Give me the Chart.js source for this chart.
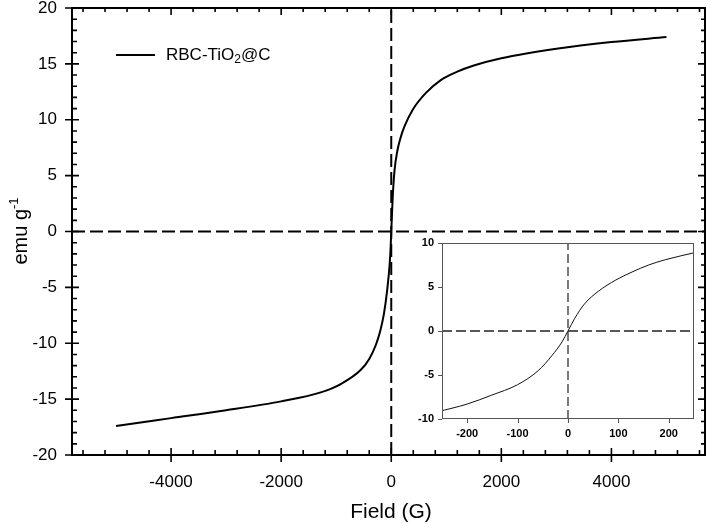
<!DOCTYPE html>
<html>
<head>
<meta charset="utf-8">
<script src="https://cdn.jsdelivr.net/npm/chart.js@4.4.1/dist/chart.umd.min.js"></script>
<style>
  html, body { margin: 0; padding: 0; background: #fff; }
  #wrap { position: relative; width: 711px; height: 524px; }
  #main { position: absolute; left: 0; top: 0; }
  #inset { position: absolute; left: 398px; top: 235px; }
</style>
</head>
<body>
<div id="wrap">
  <canvas id="main" width="711" height="524"></canvas>
  <canvas id="inset" width="305" height="212"></canvas>
</div>
<script>
// main loop
const field = [-5000, -4000, -3000, -2000, -1281, -918, -556, -400, -284, -200, -134, -73, -30, -12, 0,
  15, 30, 60, 110, 170, 240, 390, 630, 900, 1200, 1500, 2000, 3000, 4000, 5000];
const moment = [-17.4, -16.7, -16.0, -15.2, -14.4, -13.65, -12.4, -11.4, -10.2, -8.9, -7.4, -5.2, -3.0, -1.5, 0,
  1.8, 3.4, 5.5, 7.2, 8.4, 9.4, 10.9, 12.4, 13.55, 14.3, 14.85, 15.5, 16.35, 16.95, 17.4];

// low-field part
const insetField = [-260, -200, -152, -100, -59, -32, -12, 0, 13, 33, 60, 95, 127, 160, 193, 255];
const insetMoment = [-9.2, -8.3, -7.3, -6.1, -4.5, -2.8, -1.25, 0, 1.4, 3.1, 4.5, 5.8, 6.7, 7.5, 8.1, 8.95];

const seriesName = "RBC-TiO2@C";
const xTicks = [-4000, -2000, 0, 2000, 4000];
const yTicks = [-20, -15, -10, -5, 0, 5, 10, 15, 20];
const insetXTicks = [-200, -100, 0, 100, 200];
const insetYTicks = [-10, -5, 0, 5, 10];

const FONT = "'Liberation Sans', Arial, sans-serif";
const toPoints = (xs, ys) => xs.map((x, i) => ({ x: x, y: ys[i] }));

function noPad(s) {
  s.paddingTop = 0; s.paddingBottom = 0; s.paddingLeft = 0; s.paddingRight = 0;
}

// ticks on all four sides of the main frame
const mainFrame = {
  id: "mainFrame",
  afterDraw(chart) {
    const { ctx, chartArea: a, scales: { x, y } } = chart;
    ctx.save();
    ctx.strokeStyle = "#000";
    ctx.lineWidth = 2;
    ctx.strokeRect(a.left, a.top, a.right - a.left, a.bottom - a.top);

    ctx.lineWidth = 1.6;
    ctx.beginPath();
    for (let v = -5600; v <= 5600; v += 400) {
      const px = x.getPixelForValue(v);
      const major = v % 2000 === 0;
      ctx.moveTo(px, major ? a.bottom + 7 : a.bottom);
      ctx.lineTo(px, major ? a.bottom - 7 : a.bottom - 5);
      ctx.moveTo(px, a.top);
      ctx.lineTo(px, a.top + (major ? 7 : 4));
    }
    for (let v = -20; v <= 20; v += 1) {
      const py = y.getPixelForValue(v);
      const major = v % 5 === 0;
      ctx.moveTo(major ? a.left - 7 : a.left, py);
      ctx.lineTo(major ? a.left + 7 : a.left + 5, py);
      ctx.moveTo(a.right, py);
      ctx.lineTo(a.right - (major ? 7 : 4), py);
    }
    ctx.stroke();

    // legend
    ctx.lineWidth = 2;
    ctx.beginPath();
    ctx.moveTo(116, 55);
    ctx.lineTo(155, 55);
    ctx.stroke();
    ctx.fillStyle = "#000";
    ctx.textBaseline = "middle";
    ctx.textAlign = "left";
    ctx.font = "17px " + FONT;
    const parts = seriesName.split("2");
    let tx = 166;
    ctx.fillText(parts[0], tx, 55);
    tx += ctx.measureText(parts[0]).width;
    ctx.font = "12px " + FONT;
    ctx.fillText("2", tx, 60);
    tx += ctx.measureText("2").width;
    ctx.font = "17px " + FONT;
    ctx.fillText(parts[1], tx, 55);

    // axis titles
    ctx.textAlign = "center";
    ctx.textBaseline = "alphabetic";
    ctx.font = "21px " + FONT;
    ctx.fillText("Field (G)", 391, 518);

    ctx.translate(27, 231);
    ctx.rotate(-Math.PI / 2);
    ctx.font = "20px " + FONT;
    const w1 = ctx.measureText("emu g").width;
    ctx.font = "13px " + FONT;
    const w2 = ctx.measureText("-1").width;
    ctx.textAlign = "left";
    ctx.font = "20px " + FONT;
    ctx.fillText("emu g", -(w1 + w2) / 2, 0);
    ctx.font = "13px " + FONT;
    ctx.fillText("-1", -(w1 + w2) / 2 + w1, -9);
    ctx.restore();
  }
};

new Chart(document.getElementById("main"), {
  type: "line",
  data: {
    datasets: [
      { data: toPoints(field, moment), borderColor: "#000", borderWidth: 2, pointRadius: 0, cubicInterpolationMode: "monotone" },
      { data: [{ x: 0, y: -20 }, { x: 0, y: 20 }], borderColor: "#000", borderWidth: 2, borderDash: [13, 5], pointRadius: 0 },
      { data: [{ x: -5800, y: 0 }, { x: 5700, y: 0 }], borderColor: "#000", borderWidth: 2, borderDash: [13, 5], pointRadius: 0 }
    ]
  },
  options: {
    responsive: false,
    animation: false,
    layout: { padding: { top: 8, right: 6, left: 0, bottom: 0 } },
    plugins: { legend: { display: false }, tooltip: { enabled: false } },
    scales: {
      x: {
        type: "linear", min: -5800, max: 5700,
        afterFit(s) { s.height = 69; noPad(s); },
        afterBuildTicks(s) { s.ticks = xTicks.map(v => ({ value: v })); },
        grid: { display: false, drawTicks: false },
        border: { display: false },
        ticks: { padding: 17, color: "#000", font: { family: FONT, size: 17 }, callback: v => String(v) }
      },
      y: {
        type: "linear", min: -20, max: 20,
        afterFit(s) { s.width = 72; noPad(s); },
        afterBuildTicks(s) { s.ticks = yTicks.map(v => ({ value: v })); },
        grid: { display: false, drawTicks: false },
        border: { display: false },
        ticks: { padding: 15, color: "#000", font: { family: FONT, size: 17 }, callback: v => String(v) }
      }
    }
  },
  plugins: [mainFrame]
});

// inset: zoom around the origin
const insetFrame = {
  id: "insetFrame",
  beforeDraw(chart) {
    const { ctx, chartArea: a } = chart;
    ctx.save();
    ctx.fillStyle = "#fff";
    ctx.fillRect(a.left, a.top, a.right - a.left, a.bottom - a.top);
    ctx.restore();
  },
  afterDraw(chart) {
    const { ctx, chartArea: a, scales: { x, y } } = chart;
    ctx.save();
    ctx.strokeStyle = "#555";
    ctx.lineWidth = 1;
    ctx.strokeRect(a.left + 0.5, a.top + 0.5, a.right - a.left - 1, a.bottom - a.top - 1);
    ctx.beginPath();
    insetXTicks.forEach(v => {
      const px = Math.round(x.getPixelForValue(v)) + 0.5;
      ctx.moveTo(px, a.bottom);
      ctx.lineTo(px, a.bottom + 4);
    });
    insetYTicks.forEach(v => {
      const py = Math.round(y.getPixelForValue(v)) + 0.5;
      ctx.moveTo(a.left, py);
      ctx.lineTo(a.left - 4, py);
    });
    ctx.stroke();
    ctx.restore();
  }
};

new Chart(document.getElementById("inset"), {
  type: "line",
  data: {
    datasets: [
      { data: toPoints(insetField, insetMoment), borderColor: "#111", borderWidth: 1, pointRadius: 0, cubicInterpolationMode: "monotone" },
      { data: [{ x: 0, y: -10 }, { x: 0, y: 10 }], borderColor: "#222", borderWidth: 1.2, borderDash: [9, 4], pointRadius: 0 },
      { data: [{ x: -250, y: 0 }, { x: 250, y: 0 }], borderColor: "#222", borderWidth: 1.6, borderDash: [10, 4], pointRadius: 0 }
    ]
  },
  options: {
    responsive: false,
    animation: false,
    layout: { padding: { top: 8, right: 9, left: 0, bottom: 0 } },
    plugins: { legend: { display: false }, tooltip: { enabled: false } },
    scales: {
      x: {
        type: "linear", min: -250, max: 250,
        afterFit(s) { s.height = 28; noPad(s); },
        afterBuildTicks(s) { s.ticks = insetXTicks.map(v => ({ value: v })); },
        grid: { display: false, drawTicks: false },
        border: { display: false },
        ticks: { padding: 8, color: "#000", font: { family: FONT, size: 11, weight: "bold" } }
      },
      y: {
        type: "linear", min: -10, max: 10,
        afterFit(s) { s.width = 44; noPad(s); },
        afterBuildTicks(s) { s.ticks = insetYTicks.map(v => ({ value: v })); },
        grid: { display: false, drawTicks: false },
        border: { display: false },
        ticks: { padding: 8, color: "#000", font: { family: FONT, size: 11, weight: "bold" } }
      }
    }
  },
  plugins: [insetFrame]
});
</script>
</body>
</html>
